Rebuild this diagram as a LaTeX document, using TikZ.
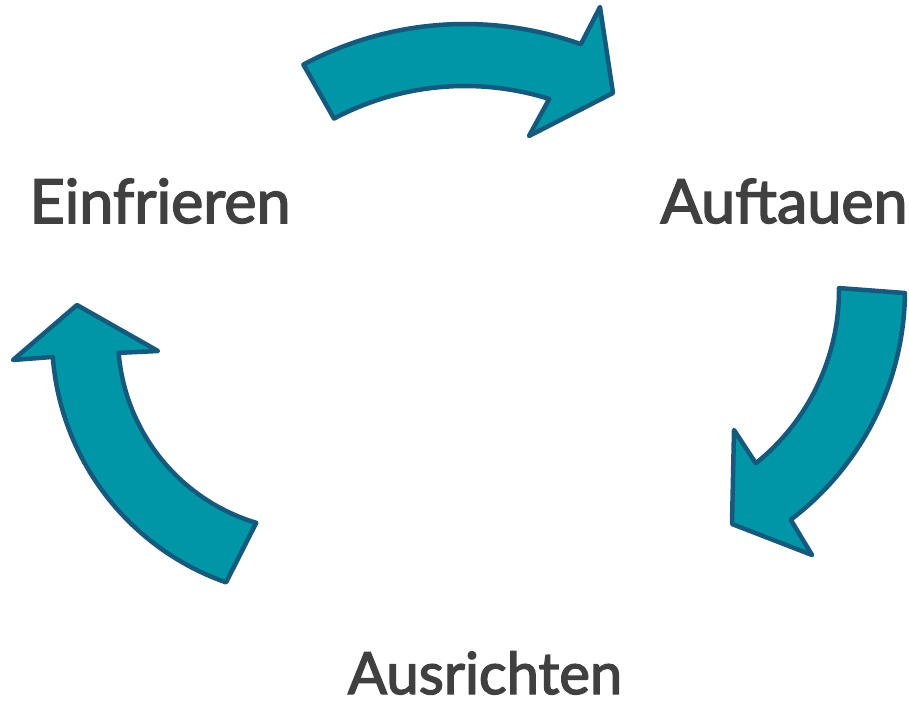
\documentclass[tikz,border=0pt]{standalone}
\usepackage{fontspec}
\setmainfont{Lato}
\newfontfamily\labelfont{Lato}[FakeBold=2.5]

\definecolor{cyclefill}{RGB}{0,150,167}
\definecolor{cycleline}{RGB}{21,90,125}
\definecolor{labelgray}{RGB}{64,64,64}

\tikzset{
	cyclearrow/.style={fill=cyclefill, draw=cycleline, line width=4.5pt, line join=round},
	steplabel/.style={text=labelgray, inner sep=0pt, text depth=0pt, anchor=base},
	biglabel/.style={steplabel, font=\labelfont\fontsize{61}{72}\selectfont},
	smalllabel/.style={steplabel, font=\labelfont\fontsize{58}{70}\selectfont}
}

\begin{document}
\begin{tikzpicture}[x=1pt,y=-1pt]

	%Picture frame in pixel units, y pointing down
	%(so the angles below run clockwise)
	\useasboundingbox (0,0) rectangle (909,701);

	%Centres of the three ring segments
	\coordinate (topc) at (465,366);
	\coordinate (rightc) at (617,290);
	\coordinate (leftc) at (312,337);

	%Top arrow: Einfrieren -> Auftauen, radii 342 and 280
	\draw[cyclearrow] ([shift={(-118.2:342)}]topc) arc[start angle=-118.2, end angle=-70.2, radius=342]
		-- (600,7) -- (613,93) -- (529,136)
		-- ([shift={(-72.5:280)}]topc) arc[start angle=-72.5, end angle=-117.9, radius=280] -- cycle;

	%Right arrow: Auftauen -> Ausrichten, radii 288 and 222
	\draw[cyclearrow] ([shift={(0.6:288)}]rightc) arc[start angle=0.6, end angle=52.9, radius=288]
		-- (812,555) -- (732,524) -- (734,430)
		-- ([shift={(51.3:222)}]rightc) arc[start angle=51.3, end angle=-0.5, radius=222] -- cycle;

	%Left arrow: Ausrichten -> Einfrieren, radii 260 and 194
	\draw[cyclearrow] ([shift={(109.3:260)}]leftc) arc[start angle=109.3, end angle=175.6, radius=260]
		-- (13,360) -- (77,305) -- (158,351)
		-- ([shift={(175.3:194)}]leftc) arc[start angle=175.3, end angle=106.7, radius=194] -- cycle;

	%The three steps
	\node[biglabel] (einfrieren) at (160,223) {Einfrieren};
	\node[biglabel] (auftauen) at (784,223) {Auftauen};
	\node[smalllabel] (ausrichten) at (485,694) {Ausrichten};

\end{tikzpicture}
\end{document}
